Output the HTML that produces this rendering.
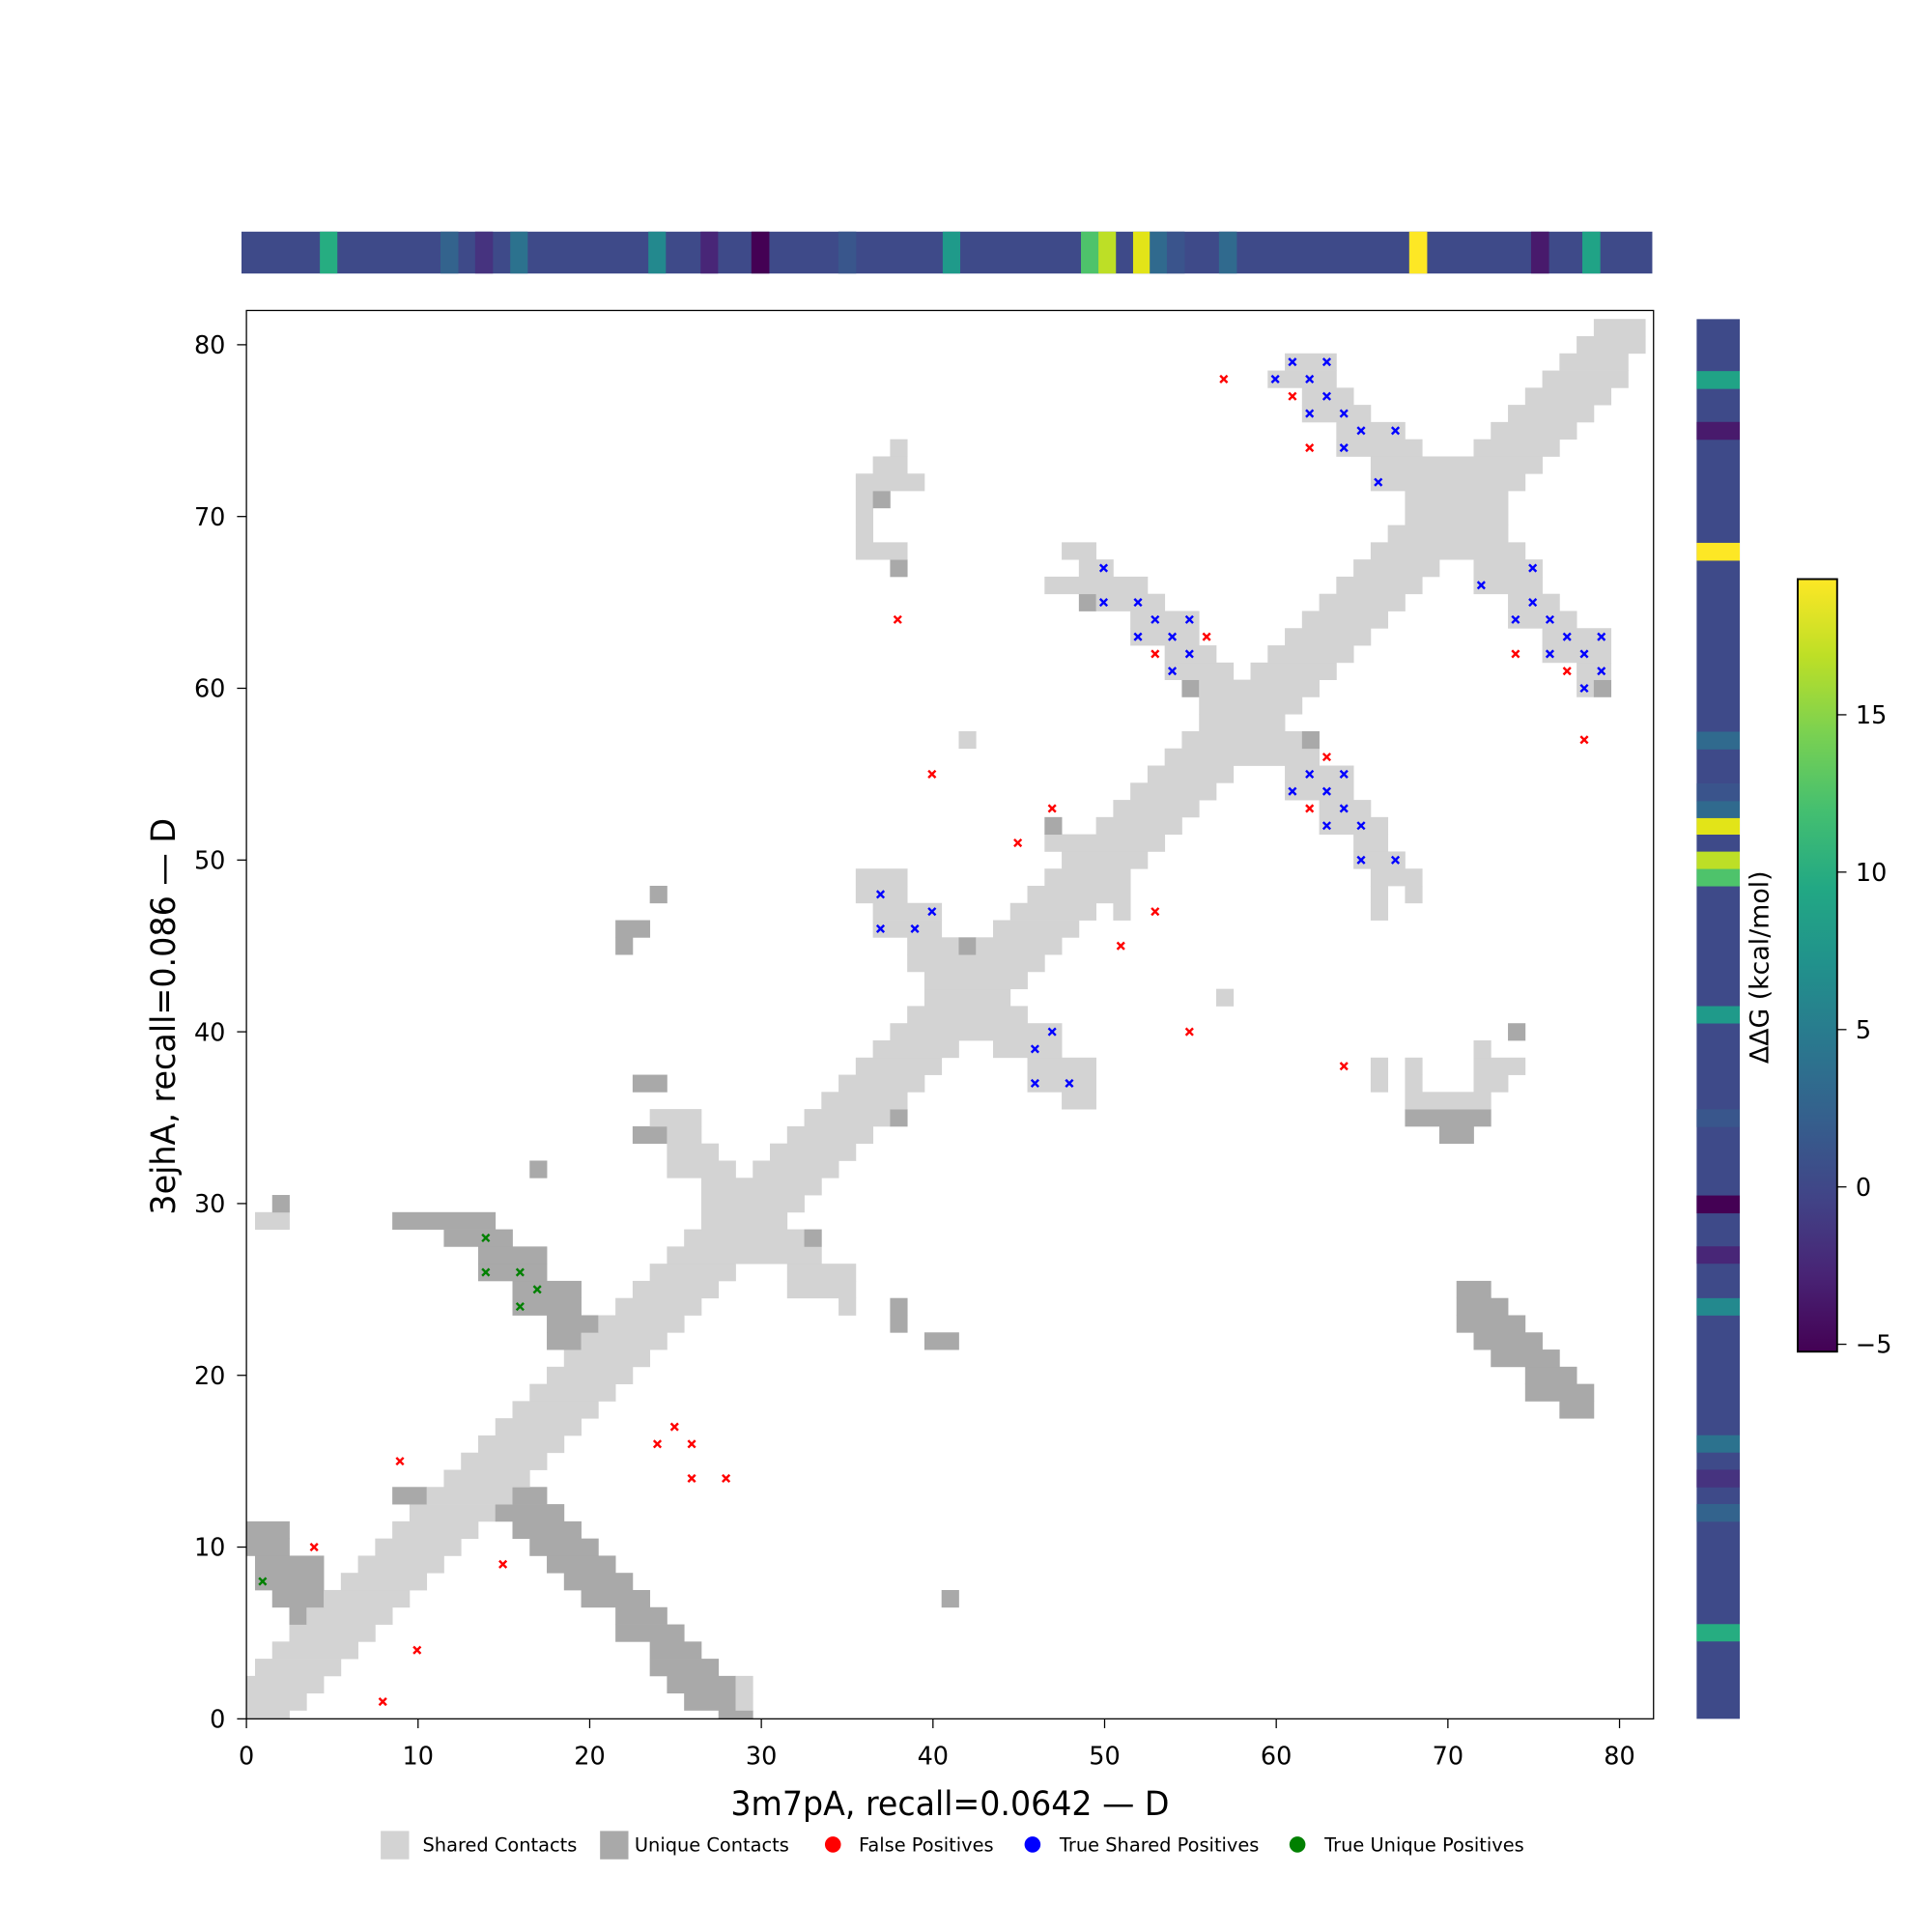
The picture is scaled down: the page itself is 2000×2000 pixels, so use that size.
<!DOCTYPE html>
<html><head><meta charset="utf-8">
<style>
html,body{margin:0;padding:0;background:#fff;}
svg{display:block;}
text{font-family:"DejaVu Sans","Liberation Sans",sans-serif;fill:#000;}
</style></head>
<body>
<svg id="s" xmlns="http://www.w3.org/2000/svg" width="2000" height="2000" viewBox="0 0 1568 1568">
<defs>
<linearGradient id="vir" x1="0" y1="1" x2="0" y2="0">
<stop offset="0" stop-color="#440154"/><stop offset="0.1" stop-color="#482475"/>
<stop offset="0.2" stop-color="#414487"/><stop offset="0.3" stop-color="#355f8d"/>
<stop offset="0.4" stop-color="#2a788e"/><stop offset="0.5" stop-color="#21918c"/>
<stop offset="0.6" stop-color="#22a884"/><stop offset="0.7" stop-color="#44bf70"/>
<stop offset="0.8" stop-color="#7ad151"/><stop offset="0.9" stop-color="#bddf26"/>
<stop offset="1" stop-color="#fde725"/>
</linearGradient>
<clipPath id="ax"><rect x="200" y="252" width="1142" height="1143"/></clipPath>
</defs>
<rect x="0" y="0" width="1568" height="1568" fill="#fff"/>
<g id="cells" clip-path="url(#ax)"></g>
<g id="marks" clip-path="url(#ax)"></g>
<rect x="200" y="252" width="1142" height="1143" fill="none" stroke="#000" stroke-width="1"/>
<g id="ticks" stroke="#000" stroke-width="1"></g>
<g id="tlabels" font-size="20"></g>
<text x="771" y="1473" font-size="27" text-anchor="middle" textLength="356" lengthAdjust="spacingAndGlyphs">3m7pA, recall=0.0642 — D</text>
<text transform="translate(142,825) rotate(-90)" font-size="27" text-anchor="middle" textLength="322" lengthAdjust="spacingAndGlyphs">3ejhA, recall=0.086 — D</text>
<g id="topbar"></g>
<g id="rightbar"></g>
<rect x="1459" y="470" width="32" height="627" fill="url(#vir)" stroke="#000" stroke-width="1.5"/>
<g id="cbt" stroke="#000" stroke-width="1"></g>
<g id="cbl" font-size="20"></g>
<text transform="translate(1435,785) rotate(-90)" font-size="21" text-anchor="middle">ΔΔG (kcal/mol)</text>
<g font-size="15.2">
<rect x="309" y="1486" width="23" height="23" fill="#d3d3d3"/>
<text x="343" y="1502.5">Shared Contacts</text>
<rect x="487" y="1486" width="23" height="23" fill="#a9a9a9"/>
<text x="515" y="1502.5">Unique Contacts</text>
<circle cx="676" cy="1497" r="6.5" fill="#ff0000"/>
<text x="697" y="1502.5">False Positives</text>
<circle cx="838" cy="1497" r="6.5" fill="#0000ff"/>
<text x="860" y="1502.5">True Shared Positives</text>
<circle cx="1053" cy="1497" r="6.5" fill="#008000"/>
<text x="1075" y="1502.5">True Unique Positives</text>
</g>
</svg>
<script>
(function(){
var NS="http://www.w3.org/2000/svg";
function el(p,t,a,txt){var e=document.createElementNS(NS,t);for(var k in a)e.setAttribute(k,a[k]);if(txt!==undefined)e.textContent=txt;document.getElementById(p).appendChild(e);return e;}
var sx=13.93, sy=13.94;
function X(v){return 200+sx*v;} function Y(v){return 1395-sy*v;}
var rows={
0:"L0-2 D28-29",1:"L0-3 D26-28 L29",2:"L0-4 D25-28 L29",3:"L1-5 D24-27",4:"L2-6 D24-26",
5:"L3-7 D22-25",6:"D3 L4-8 D22-24",7:"D2-4 L5-9 D20-23 D41",8:"D1-4 L6-10 D19-22",
9:"D1-4 L7-11 D18-21",10:"D0-2 L8-12 D17-20",11:"D0-2 L9-13 D16-19",12:"L10-14 D15-18",
13:"D9-10 L11-15 D16-17",14:"L12-16",15:"L13-17",16:"L14-18",17:"L15-19",18:"L16-20 D77-78",
19:"L17-21 D75-78",20:"L18-22 D75-77",21:"L19-23 D73-76",22:"D18-19 L20-24 D40-41 D72-75",
23:"D18-20 L21-25 D38 D71-74",24:"D16-19 L22-26 L35 D38 D71-73",25:"D16-19 L23-27 L32-35 D71-72",
26:"D14-17 L24-28 L32-35",27:"D14-17 L25-33",28:"D12-15 L26-32 D33",29:"L1-2 D9-14 L27-31",
30:"D2 L27-32",31:"L27-33",32:"D17 L25-28 L30-34",33:"L25-27 L31-35",34:"D23-24 L25-26 L32-36 D70-71",
35:"L24-26 L33-37 D38 D68-72",36:"L34-38 L48-49 L68-72",37:"D23-24 L35-39 L46-49 L66 L68 L72-73",
38:"L36-40 L46-49 L66 L68 L72-74",39:"L37-41 L44-47 L72",40:"L38-47 D74",41:"L39-45",
42:"L40-44 L57",43:"L40-45",44:"L39-46",45:"D22 L39-41 D42 L43-47",46:"D22-23 L37-40 L44-48",
47:"L37-40 L45-49 L51 L66",48:"D24 L36-38 L46-51 L66 L68",49:"L36-38 L47-51 L66-68",
50:"L48-52 L65-67",51:"L47-53 L65-66",52:"D47 L50-54 L63-66",53:"L51-55 L63-65",
54:"L52-56 L61-64",55:"L53-57 L61-64",56:"L54-62",57:"L42 L55-61 D62",58:"L56-60",
59:"L56-61",60:"D55 L56-62 L78 D79",61:"L54-57 L59-63 L78-79",62:"L54-56 L60-64 L76-79",
63:"L52-55 L61-65 L76-79",64:"L52-55 L62-66 L74-77",65:"D49 L50-53 L63-67 L74-76",
66:"L47-52 L64-68 L72-75",67:"D38 L49-50 L65-69 L72-75",68:"L36-38 L48-49 L66-74",
69:"L36 L67-73",70:"L36 L68-73",71:"L36 D37 L68-73",72:"L36-39 L66-74",73:"L37-38 L66-75",
74:"L38 L64-68 L72-76",75:"L64-67 L73-77",76:"L62-65 L74-78",77:"L62-64 L75-79",
78:"L60-63 L76-80",79:"L61-63 L77-80",80:"L78-81",81:"L79-81"};
for(var j in rows){rows[j].split(" ").forEach(function(r){
 var t=r[0],p=r.slice(1).split("-"),a=+p[0],b=p.length>1?+p[1]:a;
 el("cells","rect",{x:X(a-0.5).toFixed(2),y:Y(+j+0.5).toFixed(2),width:(sx*(b-a+1)+0.3).toFixed(2),height:(sy+0.3).toFixed(2),fill:t=="L"?"#d3d3d3":"#a9a9a9"});
});}
var red=[[4,10],[9,15],[15,9],[10,4],[8,1],[24,16],[25,17],[26,16],[26,14],[28,14],[57,78],[61,77],[62,74],[56,63],[53,62],[74,62],[77,61],[78,57],[63,56],[47,53],[62,53],[45,51],[53,47],[51,45],[38,64],[40,55],[55,40],[64,38]];
var blue=[[61,79],[63,79],[60,78],[62,78],[63,77],[62,76],[64,76],[65,75],[67,75],[64,74],[66,72],[50,67],[75,67],[72,66],[50,65],[52,65],[75,65],[53,64],[55,64],[74,64],[76,64],[52,63],[54,63],[77,63],[79,63],[55,62],[76,62],[78,62],[54,61],[79,61],[78,60],[62,55],[64,55],[61,54],[63,54],[64,53],[63,52],[65,52],[65,50],[67,50],[37,48],[40,47],[37,46],[39,46],[47,40],[46,39],[46,37],[48,37]];
var green=[[1,8],[14,28],[14,26],[16,26],[17,25],[16,24]];
function mk(list,c){list.forEach(function(p){var x=X(p[0])-0.8,y=Y(p[1]),d=2.9;
 el("marks","path",{d:"M"+(x-d)+" "+(y-d)+"L"+(x+d)+" "+(y+d)+"M"+(x-d)+" "+(y+d)+"L"+(x+d)+" "+(y-d),stroke:c,"stroke-width":1.9,fill:"none"});});}
mk(red,"#ff0000");mk(blue,"#0000ff");mk(green,"#008000");
for(var v=0;v<=80;v+=10){
 el("ticks","line",{x1:X(v),y1:1395,x2:X(v),y2:1402.6});
 el("tlabels","text",{x:X(v),y:1432,"text-anchor":"middle"},String(v));
 el("ticks","line",{x1:200,y1:Y(v),x2:192.4,y2:Y(v)});
 el("tlabels","text",{x:183,y:Y(v)+7.2,"text-anchor":"end"},String(v));
}
var base="#3e4a89";
var segs=[[259.6,273.5,"#26ad81"],[357.5,371.7,"#33638d"],[385.6,399.8,"#46337f"],[414.1,428.0,"#2c728e"],[526.2,540.1,"#23898e"],[568.6,582.5,"#482677"],[609.8,624.1,"#440154"],[680.4,694.6,"#39568c"],[765.1,779.0,"#1f9a8a"],[877.3,891.5,"#4ec36b"],[891.5,905.4,"#bddf26"],[919.6,933.1,"#e2e418"],[933.1,947.0,"#306a8e"],[947.0,961.2,"#3a548c"],[989.3,1003.5,"#306a8e"],[1143.7,1158.0,"#fde725"],[1242.6,1256.9,"#481a6c"],[1284.2,1298.5,"#20a386"]];
el("topbar","rect",{x:196,y:188,width:1145,height:34,fill:base});
el("rightbar","rect",{x:1377,y:259,width:35,height:1136,fill:base});
var k=1136/1145;
segs.forEach(function(s){
 el("topbar","rect",{x:s[0],y:188,width:(s[1]-s[0]+0.3).toFixed(2),height:34,fill:s[2]});
 var y1=1395-(s[1]-196)*k,y0=1395-(s[0]-196)*k;
 el("rightbar","rect",{x:1377,y:y1.toFixed(2),width:35,height:(y0-y1+0.3).toFixed(2),fill:s[2]});
});
var cb=[[-5,1091],[0,963.3],[5,835.6],[10,707.8],[15,580.1]];
cb.forEach(function(t){
 el("cbt","line",{x1:1491,y1:t[1],x2:1498.6,y2:t[1]});
 el("cbl","text",{x:1506,y:t[1]+7.2},t[0]<0?"\u22125":String(t[0]));
});
})();
</script>
</body></html>
